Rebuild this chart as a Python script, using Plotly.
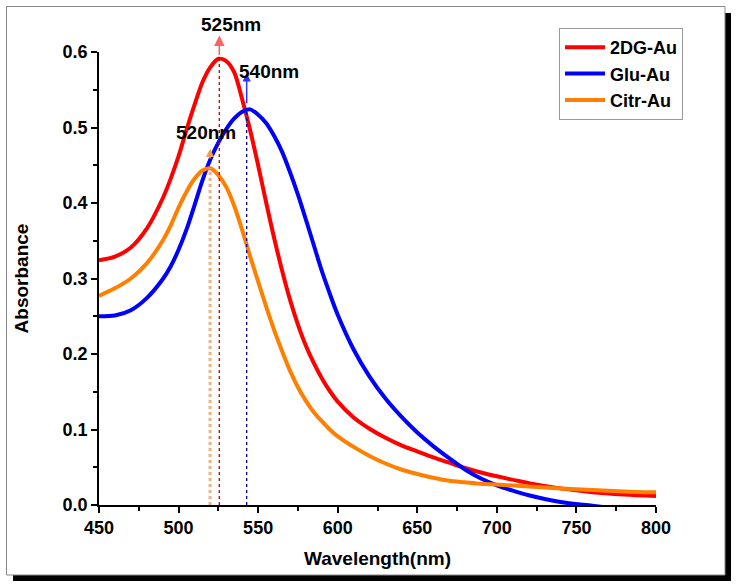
import plotly.graph_objects as go

# UV-vis absorbance spectra
wl_2dg = [450, 460, 470, 480, 490, 495, 500, 505, 510, 515, 520, 525, 530, 535, 540, 545, 550,
          555, 560, 565, 570, 575, 580, 585, 590, 595, 600, 610, 620, 630, 640, 650, 660, 670,
          680, 690, 700, 720, 740, 760, 780, 800]
abs_2dg = [0.324, 0.329, 0.341, 0.366, 0.406, 0.432, 0.462, 0.497, 0.530, 0.560, 0.580, 0.591,
           0.588, 0.573, 0.537, 0.496, 0.450, 0.401, 0.354, 0.311, 0.272, 0.239, 0.211, 0.188,
           0.168, 0.151, 0.137, 0.116, 0.101, 0.089, 0.079, 0.071, 0.063, 0.056, 0.049, 0.043,
           0.038, 0.029, 0.022, 0.017, 0.014, 0.012]

wl_glu = [450, 460, 470, 480, 490, 495, 500, 505, 510, 515, 520, 525, 530, 535, 540, 545, 550,
          555, 560, 565, 570, 575, 580, 585, 590, 595, 600, 610, 620, 630, 640, 650, 660, 670,
          680, 690, 700, 710, 720, 740, 760, 780, 800]
abs_glu = [0.250, 0.251, 0.258, 0.274, 0.299, 0.316, 0.338, 0.365, 0.397, 0.430, 0.458, 0.480,
           0.498, 0.512, 0.521, 0.524, 0.517, 0.506, 0.489, 0.468, 0.441, 0.411, 0.378, 0.344,
           0.310, 0.280, 0.252, 0.206, 0.170, 0.141, 0.117, 0.096, 0.078, 0.062, 0.047, 0.035,
           0.026, 0.019, 0.013, 0.004, -0.001, -0.006, -0.010]

wl_citr = [450, 460, 470, 480, 490, 495, 500, 505, 510, 515, 520, 525, 530, 535, 540, 545, 550,
           555, 560, 565, 570, 575, 580, 585, 590, 595, 600, 610, 620, 630, 640, 650, 660, 670,
           680, 690, 700, 720, 740, 760, 780, 800]
abs_citr = [0.277, 0.287, 0.300, 0.320, 0.350, 0.370, 0.394, 0.415, 0.432, 0.443, 0.446, 0.437,
            0.421, 0.396, 0.364, 0.329, 0.296, 0.263, 0.232, 0.204, 0.178, 0.156, 0.138, 0.123,
            0.111, 0.100, 0.091, 0.077, 0.065, 0.055, 0.047, 0.041, 0.036, 0.032, 0.030, 0.028,
            0.027, 0.0245, 0.022, 0.020, 0.018, 0.0168]

names = ["2DG-Au", "Glu-Au", "Citr-Au"]
colors = ["#ff0000", "#0000ff", "#ff8000"]

# peak markers: dotted drop line position, peak height, arrow tail/tip, label
peak_x = [525.6, 542.8, 519.8]
peak_y = [0.591, 0.525, 0.446]
arrow_tail = [0.594, 0.530, 0.457]
arrow_tip = [0.622, 0.572, 0.472]
peak_labels = ["525nm", "540nm", "520nm"]
label_x = [533, 557, 517]
label_y = [0.637, 0.574, 0.493]
drop_colors = ["#c00000", "#000099", "#f0b080"]
arrow_colors = ["#ff6060", "#3030ff", "#f0a040"]

fig = go.Figure()
for wl, ab, name, col in zip([wl_2dg, wl_glu, wl_citr], [abs_2dg, abs_glu, abs_citr], names, colors):
    fig.add_trace(go.Scatter(x=wl, y=ab, name=name, mode="lines",
                             line=dict(color=col, width=4, shape="spline", smoothing=0.8)))

for i in range(3):
    fig.add_shape(type="line", xref="x", yref="y", x0=peak_x[i], x1=peak_x[i], y0=0, y1=peak_y[i],
                  line=dict(color=drop_colors[i], width=3 if i == 2 else 1.3, dash="dot"))
    fig.add_annotation(x=peak_x[i], y=arrow_tip[i], ax=peak_x[i], ay=arrow_tail[i],
                       xref="x", yref="y", axref="x", ayref="y", text="",
                       showarrow=True, arrowhead=2, arrowsize=1.4 if i == 0 else 1.1, arrowwidth=1.5,
                       arrowcolor=arrow_colors[i], standoff=0, startstandoff=0)
    # y range is [0, 0.6], so paper y = value / 0.6 (lets the top label sit above the axes)
    fig.add_annotation(x=label_x[i], y=label_y[i] / 0.6, xref="x", yref="paper", text=peak_labels[i],
                       xanchor="center", yanchor="middle",
                       showarrow=False, font=dict(size=19, color="black", weight="bold"))

# outer frame with drop shadow, in paper coords around the plot area
l, r, t, b = 99, 82, 52, 82
W, H = 738, 587
pw, ph = W - l - r, H - t - b


def px(x):
    return (x - l) / pw


def py(y):
    return (H - b - y) / ph


fig.add_shape(type="rect", xref="paper", yref="paper", x0=px(13), x1=px(731), y0=py(575), y1=py(581),
              fillcolor="black", line_width=0, layer="below")
fig.add_shape(type="rect", xref="paper", yref="paper", x0=px(725), x1=px(731), y0=py(13), y1=py(581),
              fillcolor="black", line_width=0, layer="below")
fig.add_shape(type="rect", xref="paper", yref="paper", x0=px(6.5), x1=px(725), y0=py(6.5), y1=py(575),
              line=dict(color="#888888", width=1), layer="below")

tick_font = dict(family="Arial, Liberation Sans, sans-serif", size=18, color="black", weight="bold")
title_font = dict(family="Arial, Liberation Sans, sans-serif", size=19, color="black", weight="bold")
fig.update_layout(
    width=W, height=H,
    margin=dict(l=l, r=r, t=t, b=b),
    paper_bgcolor="white", plot_bgcolor="white",
    font=dict(family="Arial, Liberation Sans, sans-serif", color="black"),
    showlegend=True,
    legend=dict(x=px(559), y=py(28), xanchor="left", yanchor="top",
                bgcolor="white", bordercolor="#999999", borderwidth=1,
                font=dict(size=18, color="black", weight="bold"),
                tracegroupgap=0, itemwidth=40),
)
fig.update_xaxes(range=[450, 800], tickvals=[450, 500, 550, 600, 650, 700, 750, 800],
                 ticks="outside", ticklen=6, tickwidth=1.5, tickcolor="black",
                 minor=dict(ticks="outside", ticklen=4, tickwidth=1.5, tickcolor="black", dtick=25),
                 showline=True, linecolor="black", linewidth=1.5, showgrid=False, zeroline=False,
                 tickfont=tick_font, title=dict(text="Wavelength(nm)", font=title_font, standoff=14))
fig.update_yaxes(range=[0, 0.6], tickvals=[0, 0.1, 0.2, 0.3, 0.4, 0.5, 0.6], tickformat=".1f",
                 ticks="outside", ticklen=6, tickwidth=1.5, tickcolor="black",
                 minor=dict(ticks="outside", ticklen=4, tickwidth=1.5, tickcolor="black", dtick=0.05),
                 showline=True, linecolor="black", linewidth=1.5, showgrid=False, zeroline=False,
                 tickfont=tick_font, title=dict(text="Absorbance", font=title_font, standoff=29))

fig.write_html("out.html", config={"displayModeBar": False},
               post_script="document.body.style.margin='0px';")
